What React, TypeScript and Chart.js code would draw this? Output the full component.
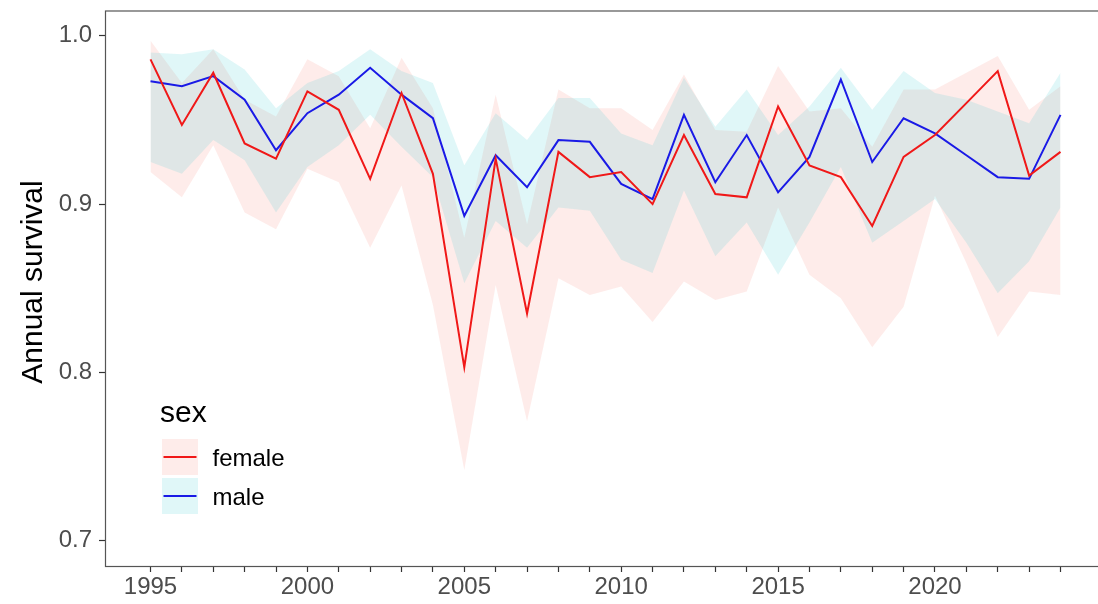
import React, { useEffect, useRef } from "react";
import { Chart, registerables } from "chart.js";

Chart.register(...registerables);

const years = [1995, 1996, 1997, 1998, 1999, 2000, 2001, 2002, 2003, 2004, 2005, 2006, 2007, 2008, 2009, 2010, 2011, 2012, 2013, 2014, 2015, 2016, 2017, 2018, 2019, 2020, 2021, 2022, 2023, 2024];

const femaleMean = [0.986, 0.947, 0.978, 0.936, 0.927, 0.967, 0.956, 0.915, 0.966, 0.918, 0.803, 0.927, 0.835, 0.931, 0.916, 0.919, 0.900, 0.941, 0.906, 0.904, 0.958, 0.923, 0.916, 0.887, 0.928, 0.941, 0.960, 0.979, 0.917, 0.931];
const femaleUpper = [0.997, 0.972, 0.992, 0.962, 0.952, 0.986, 0.976, 0.945, 0.987, 0.957, 0.880, 0.965, 0.888, 0.968, 0.957, 0.957, 0.944, 0.977, 0.944, 0.943, 0.982, 0.955, 0.957, 0.934, 0.968, 0.968, 0.978, 0.988, 0.956, 0.970];
const femaleLower = [0.919, 0.904, 0.935, 0.895, 0.885, 0.921, 0.913, 0.874, 0.911, 0.840, 0.742, 0.852, 0.771, 0.856, 0.846, 0.851, 0.830, 0.854, 0.843, 0.848, 0.898, 0.858, 0.844, 0.815, 0.839, 0.905, 0.865, 0.821, 0.848, 0.846];

const maleMean = [0.973, 0.970, 0.976, 0.962, 0.932, 0.954, 0.965, 0.981, 0.965, 0.951, 0.893, 0.929, 0.910, 0.938, 0.937, 0.912, 0.903, 0.953, 0.913, 0.941, 0.907, 0.928, 0.974, 0.925, 0.951, 0.942, 0.929, 0.916, 0.915, 0.953];
const maleUpper = [0.990, 0.989, 0.992, 0.980, 0.957, 0.972, 0.979, 0.992, 0.979, 0.972, 0.923, 0.954, 0.938, 0.963, 0.963, 0.942, 0.935, 0.975, 0.946, 0.968, 0.941, 0.958, 0.981, 0.956, 0.979, 0.966, 0.962, 0.955, 0.948, 0.978];
const maleLower = [0.925, 0.918, 0.938, 0.926, 0.895, 0.922, 0.935, 0.953, 0.934, 0.916, 0.853, 0.890, 0.874, 0.898, 0.896, 0.867, 0.859, 0.908, 0.869, 0.889, 0.858, 0.889, 0.922, 0.877, 0.890, 0.903, 0.877, 0.847, 0.866, 0.898];

const yTicks = [0.7, 0.8, 0.9, 1.0];
const xLabelYears = [1995, 2000, 2005, 2010, 2015, 2020];
const seriesNames = ["female", "male"];
const legendTitle = "sex";
const yTitle = "Annual survival";

const FONT = "'Liberation Sans', Arial, Helvetica, sans-serif";
const RED = "#f01818";
const BLUE = "#1a1ae6";
const RED_FILL = "rgba(248,118,109,0.14)";
const BLUE_FILL = "rgba(0,191,196,0.12)";

const pts = (vals: number[]) => vals.map((v, i) => ({ x: years[i], y: v }));

const decorPlugin = {
  id: "decor",
  afterDraw(chart: any) {
    const { ctx, chartArea } = chart;
    const { left, top, right, bottom } = chartArea;
    ctx.save();
    // panel border
    ctx.strokeStyle = "#555555";
    ctx.lineWidth = 1.2;
    ctx.strokeRect(left + 0.5, top + 0.5, right - left - 1, bottom - top);
    // y title
    ctx.save();
    ctx.translate(34, 282);
    ctx.rotate(-Math.PI / 2);
    ctx.fillStyle = "#000000";
    ctx.font = `30px ${FONT}`;
    ctx.textAlign = "center";
    ctx.textBaseline = "middle";
    ctx.fillText(yTitle, 0, 0);
    ctx.restore();
    // legend
    ctx.fillStyle = "#000000";
    ctx.font = `30px ${FONT}`;
    ctx.textAlign = "left";
    ctx.textBaseline = "alphabetic";
    ctx.fillText(legendTitle, 160, 421.5);
    const keys = [
      { y: 439, fill: RED_FILL, line: RED, label: seriesNames[0] },
      { y: 478, fill: BLUE_FILL, line: BLUE, label: seriesNames[1] },
    ];
    keys.forEach((k) => {
      ctx.fillStyle = k.fill;
      ctx.fillRect(162, k.y, 36, 36);
      ctx.strokeStyle = k.line;
      ctx.lineWidth = 2;
      ctx.beginPath();
      ctx.moveTo(163.5, k.y + 18);
      ctx.lineTo(196.5, k.y + 18);
      ctx.stroke();
      ctx.fillStyle = "#000000";
      ctx.font = `24px ${FONT}`;
      ctx.fillText(k.label, 212.5, k.y + 27);
    });
    ctx.restore();
  },
};

export default function App() {
  const ref = useRef<HTMLCanvasElement | null>(null);
  useEffect(() => {
    if (!ref.current) return;
    const lineDs = (label: string, vals: number[], color: string) => ({
      label,
      data: pts(vals),
      borderColor: color,
      backgroundColor: color,
      borderWidth: 2,
      pointRadius: 0,
      tension: 0,
      fill: false,
      order: 0,
    });
    const bandDs = (label: string, vals: number[], fillTo: any, color: string, order: number) => ({
      label,
      data: pts(vals),
      borderColor: "rgba(0,0,0,0)",
      backgroundColor: color,
      borderWidth: 0,
      pointRadius: 0,
      tension: 0,
      fill: fillTo,
      order,
    });
    const chart = new Chart(ref.current, {
      type: "line",
      data: {
        datasets: [
          lineDs("female", femaleMean, RED),
          lineDs("male", maleMean, BLUE),
          bandDs("female lower", femaleLower, false, RED_FILL, 3),
          bandDs("female upper", femaleUpper, "-1", RED_FILL, 3),
          bandDs("male lower", maleLower, false, BLUE_FILL, 2),
          bandDs("male upper", maleUpper, "-1", BLUE_FILL, 2),
        ] as any,
      },
      options: {
        animation: false,
        responsive: false,
        devicePixelRatio: 1,
        layout: { padding: { top: 10.5, left: 0, right: 0, bottom: 0 } },
        plugins: {
          legend: { display: false },
          tooltip: { enabled: false },
          title: { display: false },
        },
        scales: {
          x: {
            type: "linear",
            min: 1993.55,
            max: 2025.45,
            position: "bottom",
            grid: {
              drawOnChartArea: false,
              drawTicks: true,
              tickLength: 6,
              tickWidth: 1.2,
              tickColor: "#333333",
            },
            border: { display: false },
            afterBuildTicks: (s: any) => {
              s.ticks = years.map((v) => ({ value: v }));
            },
            afterFit: (s: any) => {
              s.height = 38;
              s.paddingLeft = 0;
              s.paddingRight = 0;
            },
            ticks: {
              autoSkip: false,
              maxRotation: 0,
              minRotation: 0,
              padding: 1,
              color: "#4d4d4d",
              font: { size: 24, family: FONT },
              callback: (v: any) => (xLabelYears.includes(Number(v)) ? String(v) : ""),
            },
          },
          y: {
            type: "linear",
            min: 0.685,
            max: 1.015,
            grid: {
              drawOnChartArea: false,
              drawTicks: true,
              tickLength: 6,
              tickWidth: 1.2,
              tickColor: "#333333",
            },
            border: { display: false },
            afterBuildTicks: (s: any) => {
              s.ticks = yTicks.map((v) => ({ value: v }));
            },
            afterFit: (s: any) => {
              s.width = 105;
              s.paddingTop = 0;
              s.paddingBottom = 0;
            },
            ticks: {
              padding: 7,
              color: "#4d4d4d",
              font: { size: 24, family: FONT },
              callback: (v: any) => Number(v).toFixed(1),
            },
          },
        },
      } as any,
      plugins: [decorPlugin],
    });
    return () => chart.destroy();
  }, []);

  return (
    <div style={{ position: "fixed", left: 0, top: 0, width: 1098, height: 604, overflow: "hidden", background: "#ffffff" }}>
      <canvas ref={ref} width={1106} height={604} style={{ width: 1106, height: 604, display: "block" }} />
    </div>
  );
}
